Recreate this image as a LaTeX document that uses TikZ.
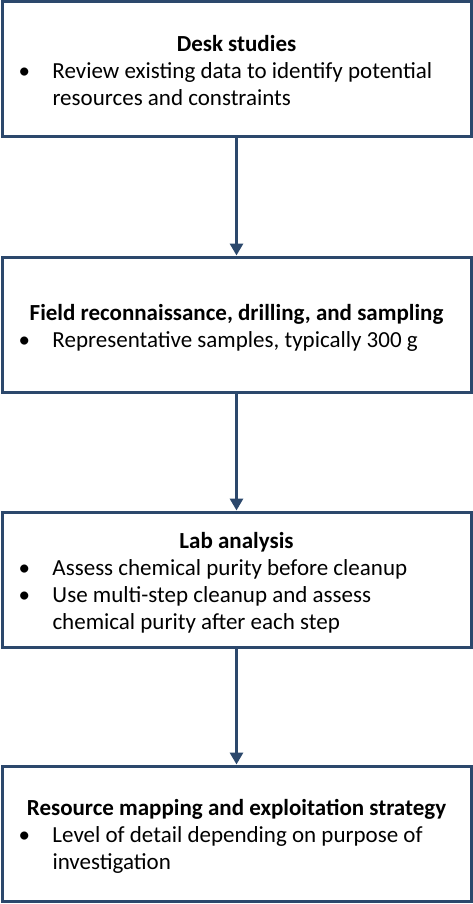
\documentclass[tikz,border=0pt]{standalone}
\usepackage{fontspec}
\setmainfont{Carlito}
\usepackage{array}
\usetikzlibrary{arrows.meta}
\definecolor{boxblue}{RGB}{44,72,108}
\newcommand{\stepcontent}[2]{%
  \fontsize{23}{27}\selectfont
  \renewcommand{\arraystretch}{1}%
  \raisebox{-4pt}[\height][\depth]{\begin{tabular}{@{}p{34pt}@{}p{402pt}@{}}
  \multicolumn{2}{@{}c@{}}{\textbf{#1}}\\
  #2
  \end{tabular}}}
\begin{document}
\begin{tikzpicture}[x=1pt,y=1pt,
  stepbox/.style={draw=boxblue, line width=3pt, fill=white,
    minimum width=469pt, minimum height=135pt, inner sep=0pt},
  flow/.style={draw=boxblue, line width=3pt,
    -{Triangle[length=12pt,width=13pt]}}]
\useasboundingbox (0,0) rectangle (473,-904);
\fill[white] (0,0) rectangle (473,-904);
\node[stepbox] (b1) at (236.5,-69.5) {\stepcontent{Desk studies}{%
  \textbullet & Review existing data to identify potential\\
   & resources and constraints}};
\node[stepbox] (b2) at (236.5,-324.5) {\stepcontent{Field reconnaissance, drilling, and sampling}{%
  \textbullet & Representative samples, typically 300 g}};
\node[stepbox] (b3) at (236.5,-579.5) {\stepcontent{Lab analysis}{%
  \textbullet & Assess chemical purity before cleanup\\
  \textbullet & Use multi-step cleanup and assess\\
   & chemical purity after each step}};
\node[stepbox] (b4) at (236.5,-833.5) {\stepcontent{Resource mapping and exploitation strategy}{%
  \textbullet & Level of detail depending on purpose of\\
   & investigation}};
\draw[flow] (b1.south) -- (b2.north);
\draw[flow] (b2.south) -- (b3.north);
\draw[flow] (b3.south) -- (b4.north);
\end{tikzpicture}
\end{document}
